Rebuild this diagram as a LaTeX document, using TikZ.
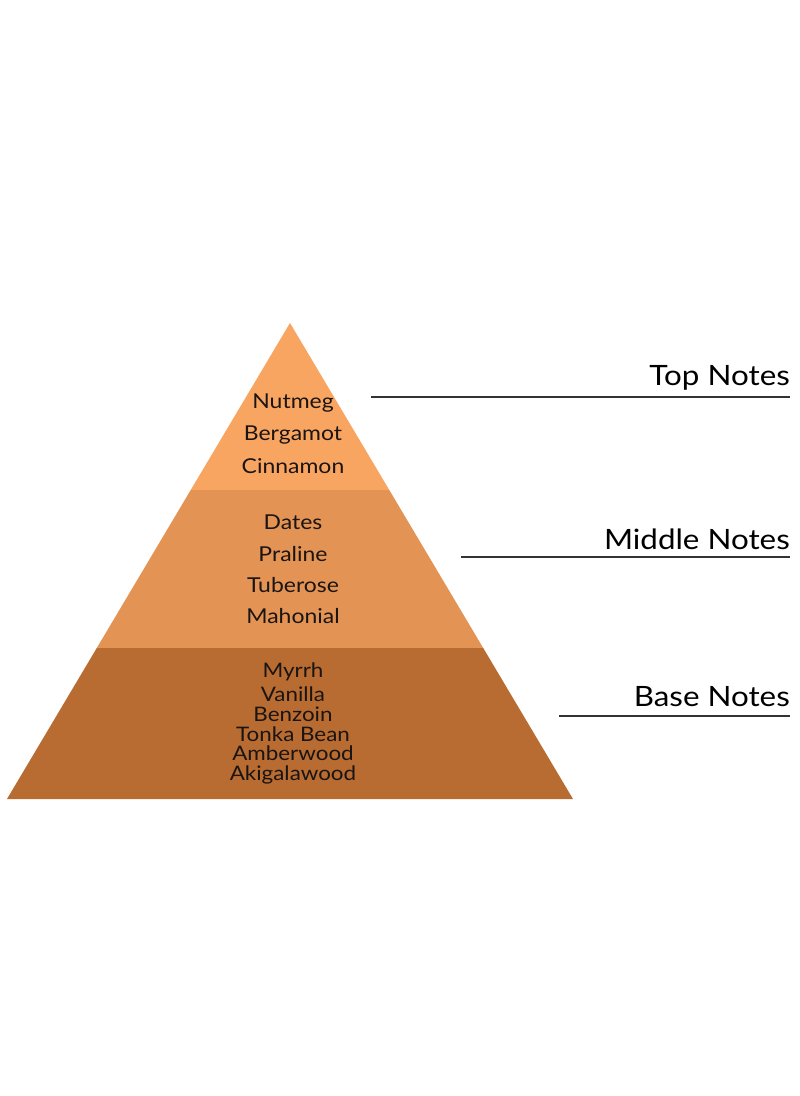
\documentclass[tikz,border=0pt]{standalone}
\usepackage{fontspec}
\setmainfont[FakeStretch=1.12]{Lato}
\definecolor{topc}{HTML}{F9A562}
\definecolor{midc}{HTML}{E39454}
\definecolor{basec}{HTML}{B86C31}
\definecolor{ink}{HTML}{1A1412}
\definecolor{rulec}{HTML}{333333}
\tikzset{
  notetext/.style={anchor=base, inner sep=0pt, text=ink, font=\fontsize{20.5}{22}\selectfont},
  basetext/.style={anchor=base, inner sep=0pt, text=ink, font=\fontsize{20}{22}\selectfont},
  tierlabel/.style={anchor=base east, inner sep=0pt, text=black, font=\fontsize{28}{30}\selectfont},
  tierrule/.style={draw=rulec, line width=1.8pt}
}
\begin{document}
\begin{tikzpicture}[x=1pt,y=-1pt]
\useasboundingbox[fill=white] (0,0) rectangle (800,1096);
\coordinate (apex) at (290,323);
\coordinate (bl) at (7,799);
\coordinate (br) at (573,799);
\begin{scope}
  \clip (apex) -- (br) -- (bl) -- cycle;
  \fill[topc] (0,300) rectangle (600,490);
  \fill[midc] (0,490) rectangle (600,648);
  \fill[basec] (0,648) rectangle (600,810);
\end{scope}
% top notes
\node[notetext] (n1) at (293,408) {Nutmeg};
\node[notetext] (n2) at (293,440.5) {Bergamot};
\node[notetext] (n3) at (293,473) {Cinnamon};
% middle notes
\node[notetext] (m1) at (293,529.5) {Dates};
\node[notetext] (m2) at (293,561) {Praline};
\node[notetext] (m3) at (293,592.5) {Tuberose};
\node[notetext] (m4) at (293,623.5) {Mahonial};
% base notes
\node[basetext] (b1) at (293,677) {Myrrh};
\node[basetext] (b2) at (293,701.5) {Vanilla};
\node[basetext] (b3) at (293,721.5) {Benzoin};
\node[basetext] (b4) at (293,741) {Tonka Bean};
\node[basetext] (b5) at (293,760.5) {Amberwood};
\node[basetext] (b6) at (293,780) {Akigalawood};
% tier labels
\node[tierlabel] (tl) at (790,385) {Top Notes};
\node[tierlabel] (ml) at (790,549) {Middle Notes};
\node[tierlabel] (bsl) at (790,706) {Base Notes};
\coordinate (tr) at (371,397);
\coordinate (mr) at (461,557);
\coordinate (br2) at (559,716);
\draw[tierrule] (tr) -- (tr -| tl.east);
\draw[tierrule] (mr) -- (mr -| ml.east);
\draw[tierrule] (br2) -- (br2 -| bsl.east);
\end{tikzpicture}
\end{document}
